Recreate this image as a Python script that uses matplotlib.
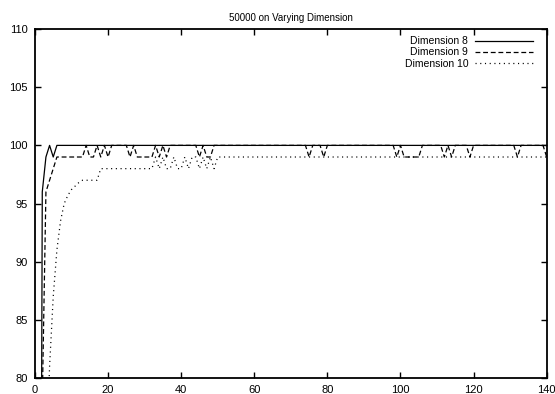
import matplotlib
matplotlib.use("Agg")
import matplotlib.pyplot as plt
import numpy as np

plt.rcParams['font.family'] = ['Liberation Sans', 'DejaVu Sans']
plt.rcParams['lines.scale_dashes'] = False

x = list(range(1, 141))

# Dimension 8 (solid)
dim8 = [0, 96, 99, 100, 99] + [100] * 135

# Dimension 9 (dashed)
dim9 = ([60, 78, 96, 97, 98] + [99] * 8 +            # x 1-13
        [100, 99, 99, 100, 99, 100, 99, 100] +       # x 14-21
        [100, 100, 100, 100, 99, 100, 99, 99, 99, 99, 99] +  # x 22-32
        [100, 99, 100, 99, 100] + [100] * 7 +        # x 33-44
        [99, 100, 99, 99, 100] + [100] * 25 +        # x 45-74
        [99, 100, 100, 100, 99] + [100] * 19 +       # x 75-98
        [99, 100, 99, 99, 99, 99, 99] + [100] * 6 +  # x 99-111
        [99, 100, 99, 100, 100, 100, 100, 99] +      # x 112-119
        [100] * 12 + [99] + [100] * 7 + [99])        # x 120-140

# Dimension 10 (dotted)
dim10 = ([50, 60, 72, 81, 87, 91, 93.5, 95, 95.7, 96.2, 96.5, 96.8] +  # x 1-12
         [97] * 5 + [98] * 14 +                                          # x 13-31
         [98, 99, 98, 99, 98, 98, 99, 98, 98, 99, 98, 99, 99, 98, 99, 98, 99, 98] +  # x 32-49
         [99] * 91)                                                      # x 50-140

fig = plt.figure(figsize=(5.55, 3.94), dpi=100)
ax = fig.add_axes([0.063, 0.041, 0.922, 0.885])

ax.plot(x, dim8, color='black', lw=0.9, label='Dimension 8')
ax.plot(x, dim9, color='black', lw=0.9, dashes=(3.5, 2), label='Dimension 9')
ax.plot(x, dim10, color='black', lw=0.9, dashes=(0.8, 2.6), label='Dimension 10')

ax.set_xlim(0, 140)
ax.set_ylim(80, 110)
ax.set_xticks(np.arange(0, 141, 20))
ax.set_yticks(np.arange(80, 111, 5))
ax.tick_params(direction='in', length=4, width=1, labelsize=8, top=True, right=True, pad=5)
for s in ax.spines.values():
    s.set_linewidth(1.3)

ax.set_title('50000 on Varying Dimension', fontsize=7, pad=6)

ax.legend(loc='upper right', frameon=False, markerfirst=False, fontsize=7.5,
          handlelength=5.5, labelspacing=0.1, handletextpad=0.7,
          borderaxespad=0.3, bbox_to_anchor=(0.987, 1.0))

fig.savefig('out.png', dpi=100)
